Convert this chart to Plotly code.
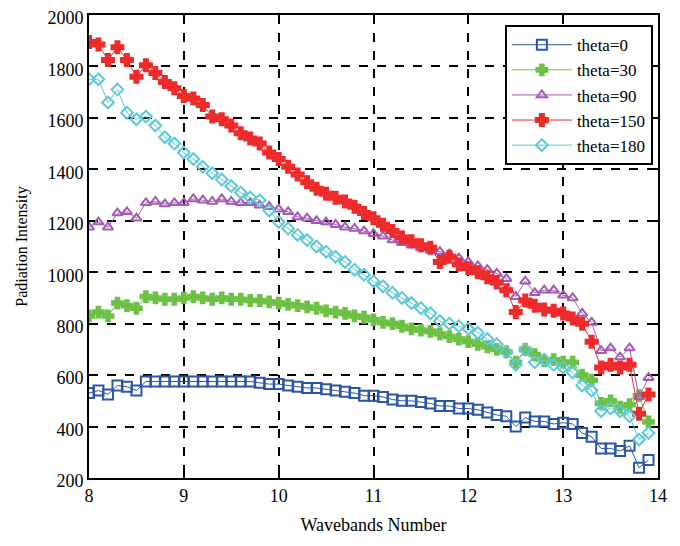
import numpy as np
import plotly.graph_objects as go

wavebands = [round(8.0 + 0.1 * i, 1) for i in range(60)]

theta_0 = [530, 540, 525, 560, 555, 540, 575, 575, 575, 575,
           575, 575, 575, 575, 575, 575, 575, 575, 570, 565,
           565, 560, 555, 550, 550, 545, 540, 535, 530, 520,
           520, 515, 505, 500, 500, 495, 490, 480, 480, 470,
           470, 465, 455, 445, 440, 400, 435, 420, 420, 410,
           415, 410, 375, 360, 315, 315, 305, 325, 240, 270]

theta_30 = [830, 845, 830, 880, 870, 860, 905, 900, 895, 895,
            900, 905, 900, 895, 900, 895, 895, 890, 890, 885,
            880, 875, 870, 865, 860, 850, 845, 840, 830, 825,
            815, 805, 800, 790, 780, 775, 770, 760, 750, 740,
            730, 720, 710, 700, 690, 650, 700, 680, 655, 660,
            650, 650, 600, 580, 490, 500, 475, 485, 520, 418]

theta_90 = [1175, 1195, 1175, 1230, 1235, 1210, 1270, 1275, 1265, 1270,
            1270, 1285, 1280, 1275, 1285, 1275, 1270, 1270, 1260, 1255,
            1245, 1235, 1215, 1210, 1200, 1195, 1185, 1175, 1170, 1160,
            1150, 1140, 1125, 1115, 1105, 1095, 1085, 1080, 1070, 1055,
            1040, 1025, 1010, 995, 975, 905, 965, 920, 930, 930,
            910, 900, 840, 805, 695, 705, 670, 705, 515, 590]

theta_150 = [1895, 1885, 1825, 1875, 1825, 1760, 1805, 1775, 1740, 1715,
             1685, 1675, 1650, 1605, 1595, 1570, 1540, 1520, 1500, 1465,
             1440, 1410, 1380, 1350, 1325, 1305, 1290, 1275, 1255, 1230,
             1210, 1185, 1160, 1135, 1120, 1105, 1095, 1040, 1060, 1030,
             1015, 1000, 980, 960, 930, 845, 890, 870, 855, 850,
             840, 820, 800, 730, 630, 640, 630, 640, 450, 525]

theta_180 = [1750, 1750, 1660, 1710, 1620, 1595, 1605, 1570, 1525, 1500,
             1465, 1440, 1410, 1385, 1360, 1335, 1310, 1290, 1280, 1240,
             1195, 1170, 1145, 1125, 1100, 1080, 1060, 1040, 1010, 990,
             965, 945, 920, 900, 880, 860, 840, 810, 800, 790,
             780, 765, 740, 720, 690, 640, 700, 650, 660, 640,
             630, 610, 560, 540, 460, 470, 460, 440, 350, 375]

series = [
    ("theta=0", theta_0, "#2B56A8", "square-open", 10),
    ("theta=30", theta_30, "#6DC144", "cross", 9),
    ("theta=90", theta_90, "#A25CB2", "triangle-up-open", 9),
    ("theta=150", theta_150, "#EE2B2B", "cross", 10),
    ("theta=180", theta_180, "#5CC9D6", "diamond-open", 9),
]

SERIF = "Liberation Serif, Times New Roman, serif"

fig = go.Figure()
for name, vals, color, sym, size in series:
    fig.add_trace(go.Scatter(
        x=wavebands, y=vals, name=name, mode="lines+markers",
        line=dict(color=color, width=1),
        marker=dict(symbol=sym, size=size, color=color,
                    line=dict(color=color, width=2)),
    ))

axis_common = dict(
    showline=True, linecolor="black", linewidth=2, mirror="ticks",
    ticks="inside", ticklen=6, tickwidth=2, tickcolor="black",
    showgrid=True, gridcolor="black", gridwidth=2, griddash="dash",
    zeroline=False, automargin=False, ticklabeloverflow="allow",
    tickfont=dict(family=SERIF, size=18, color="black"),
)

fig.update_xaxes(range=[8, 14], dtick=1, **axis_common,
                 title=dict(text="Wavebands Number", standoff=14,
                            font=dict(family=SERIF, size=18, color="black")))
fig.update_yaxes(range=[200, 2000], dtick=200, ticklabelshift=3, **axis_common,
                 title=dict(text="Padiation Intensity", standoff=16,
                            font=dict(family=SERIF, size=16, color="black")))

fig.update_layout(
    width=680, height=546,
    margin=dict(l=81, r=30, t=7, b=76),
    paper_bgcolor="white", plot_bgcolor="white",
    font=dict(family=SERIF, color="black"),
    legend=dict(x=0.991, y=0.978, xanchor="right", yanchor="top",
                bgcolor="white", bordercolor="black", borderwidth=2,
                font=dict(family=SERIF, size=17, color="black"),
                tracegroupgap=0, itemwidth=60),
    showlegend=True,
)

fig.write_html("out.html")
